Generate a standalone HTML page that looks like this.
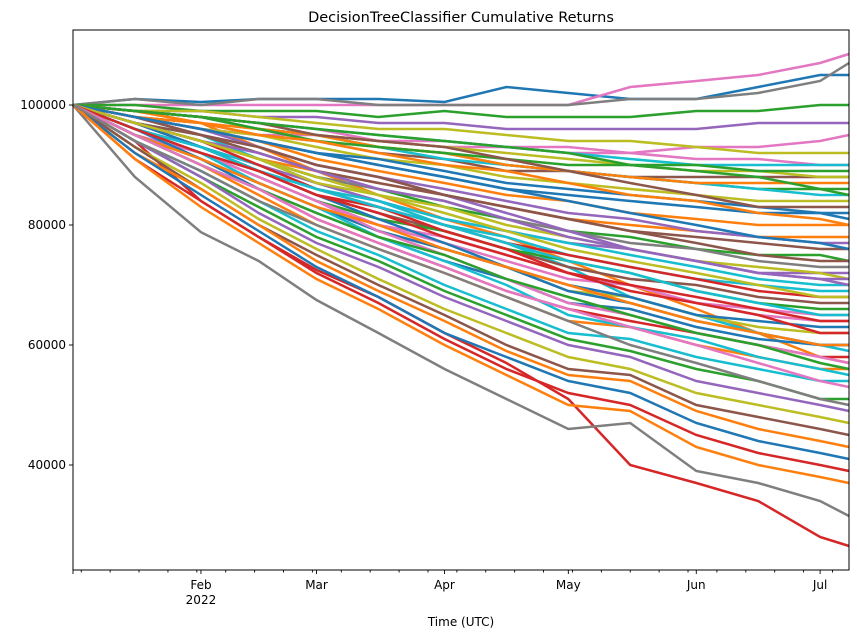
<!DOCTYPE html>
<html><head><meta charset="utf-8">
<style>
body{margin:0;background:#fff;font-family:"Liberation Sans","DejaVu Sans",sans-serif;}
svg text{font-family:"DejaVu Sans","Liberation Sans",sans-serif;}
</style></head>
<body>
<svg id="chart" width="857" height="638" viewBox="0 0 857 638" xmlns="http://www.w3.org/2000/svg">
<rect width="857" height="638" fill="#fff"/>
<text x="461" y="22" text-anchor="middle" font-size="14.5" fill="#000">DecisionTreeClassifier Cumulative Returns</text>
<g id="lines"></g>
<g id="axes"></g>
<text x="461" y="626" text-anchor="middle" font-size="12" fill="#000">Time (UTC)</text>
</svg>
<script>
const dates = [0, 15, 31, 45, 59, 74, 90, 105, 120, 135, 151, 166, 181, 188];
const yTicks = [40000, 60000, 80000, 100000];
const xTickLabels = ["Feb", "Mar", "Apr", "May", "Jun", "Jul"];
const xTickDays = [31, 59, 90, 120, 151, 181];
const colors = ["#1f77b4","#ff7f0e","#2ca02c","#d62728","#9467bd","#8c564b","#e377c2","#7f7f7f","#bcbd22","#17becf"];
const series = [
[100,101,100.5,101,101,101,100.5,103,102,101,101,103,105,105],
[100,100,100,100,100,100,100,100,100,103,104,105,107,108.5],
[100,101,100,101,101,100,100,100,100,101,101,102,104,107],
[100,94,84,78,72.5,68,62,57,51,40,37,34,28,26.5],
[100,100,99,99,99,98,99,98,98,98,99,99,100,100],
[100,99,97,93,89,85,81,78,74,70,66,62,58,57],
[100,99,99,98,98,97,97,96,96,96,96,97,97,97],
[100,88,78.8,74,67.5,62,56,51,46,47,39,37,34,31.5],
[100,98,96,95,95,94,94,93,93,92,93,93,94,95],
[100,97,95,91,87,84,80,77,73,68,65,62,60,59],
[100,98,97,95,94,92,91,89,89,88,88,88,88,88],
[100,98,96,95,93,91,90,88,87,86,85,84,84,84],
[100,98,96,94,92,90,88,86,85,84,83,82,82,81],
[100,97,94,91,89,87,85,83,81,80,79,78,78,78],
[100,97,94,91,88,86,83,81,79,78,76,75,75,74],
[100,96,93,90,87,84,81,79,77,76,74,72,72,72],
[100,96,93,89,86,83,80,78,75,73,71,70,69,69],
[100,96,92,89,85,82,79,76,73,71,70,68,67,67],
[100,95,92,88,84,80,77,74,71,70,67,65,64,64],
[100,95,91,87,83,79,76,73,69,68,65,63,62,62],
[100,95,91,86,82,78,74,71,67,66,63,61,60,60],
[100,95,90,86,81,77,73,69,66,64,62,60,58,58],
[100,95,90,85,80,76,72,68,64,63,60,58,56,56],
[100,94,89,84,79,75,70,66,62,61,58,56,54,54],
[100,94,88,83,78,74,69,65,61,59,56,54,51,51],
[100,94,88,82,77,73,68,64,60,58,54,52,50,49],
[100,93,87,81,76,71,66,62,58,56,52,50,48,47],
[100,93,86,80,75,70,65,60,56,55,50,48,46,45],
[100,92,86,80,74,69,64,59,55,54,49,46,44,43],
[100,92,85,79,73,68,62,58,54,52,47,44,42,41],
[100,91,84,78,72,67,61,56,52,50,45,42,40,39],
[100,91,83,77,71,66,60,55,50,49,43,40,38,37],
[100,99,98,97,96,94,93,93,92,92,91,91,90,90],
[100,99,98,96,95,94,93,92,91,90,89,89,88,88],
[100,99,98,96,95,93,92,90,89,88,87,86,86,86],
[100,99,98,96,95,93,91,90,89,88,87,86,85,85],
[100,98,96,94,92,91,89,87,86,85,84,83,82,82],
[100,98,96,94,91,89,87,85,84,82,81,80,80,80],
[100,98,95,93,90,88,86,84,82,81,79,78,77,77],
[100,98,95,92,89,87,85,83,81,79,78,77,76,76],
[100,97,94,91,88,86,84,81,79,77,76,74,73,73],
[100,97,94,91,87,85,83,80,78,76,74,73,72,71],
[100,97,93,90,86,84,81,79,77,75,73,71,70,70],
[100,97,93,89,85,83,80,77,75,73,71,69,68,68],
[100,96,92,88,84,81,79,76,74,72,69,67,66,66],
[100,96,92,88,84,80,78,75,72,70,67,66,65,65],
[100,96,91,87,83,79,76,73,70,68,65,64,63,63],
[100,99,99,98,97,96,96,95,94,94,93,92,92,92],
[100,99,98,97,96,95,94,93,92,91,90,90,90,90],
[100,99,97,96,95,93,92,90,89,88,87,87,87,87],
[100,99,98,96,94,93,92,91,90,90,90,89,89,89],
[100,99,98,97,95,94,93,91,89,87,85,83,83,83],
[100,98,96,93,90,88,85,82,79,76,74,72,71,71],
[100,97,94,90,86,83,79,76,72,70,68,66,64,64],
[100,97,93,89,85,81,77,73,69,67,64,62,60,60],
[100,96,92,88,84,79,75,71,67,65,62,60,58,57],
[100,96,92,87,83,78,74,70,65,63,61,58,56,55],
[100,99,98,97,96,95,94,93,92,90,89,88,86,85],
[100,98,97,95,94,92,90,89,87,85,84,82,81,80],
[100,98,96,94,92,90,88,86,84,82,80,78,77,76],
[100,97,95,93,90,88,85,83,81,79,77,75,74,74],
[100,97,94,92,89,86,84,81,78,76,74,72,71,70],
[100,97,94,91,88,85,82,79,76,74,72,70,68,68],
[100,96,93,89,86,83,80,77,74,72,69,67,65,65],
[100,96,92,89,85,82,78,75,72,69,67,65,62,62],
[100,95,91,87,83,80,76,73,70,67,64,62,60,60],
[100,95,90,86,82,78,75,71,68,65,62,60,57,56],
[100,95,90,86,81,77,73,69,66,63,60,57,54,53],
[100,94,89,84,80,76,72,68,64,60,57,54,51,50]
];
const seriesColor = [0,6,7,3,2,1,4,7,6,9,5,8,0,1,2,4,9,5,6,8,0,3,1,9,2,4,8,5,1,0,3,1,6,8,2,9,0,1,4,5,7,8,9,3,2,6,0,8,9,1,2,5,4,3,0,6,9,2,1,0,5,4,8,9,3,1,2,6,7];
const X0=73, X1=849, Y0=30, Y1=570;
const DMAX=188, VMIN=22500, VMAX=112500;
const xs = d => X0 + (d/DMAX)*(X1-X0);
const ys = v => Y1 - (v-VMIN)/(VMAX-VMIN)*(Y1-Y0);
const NS="http://www.w3.org/2000/svg";
const lg=document.getElementById('lines');
series.forEach((s,i)=>{
  const p=document.createElementNS(NS,'polyline');
  p.setAttribute('points', s.map((v,j)=>xs(dates[j]).toFixed(1)+','+ys(v*1000).toFixed(1)).join(' '));
  p.setAttribute('fill','none');
  p.setAttribute('stroke',colors[seriesColor[i]]);
  p.setAttribute('stroke-width','2.5');
  
  
  lg.appendChild(p);
});
const ax=document.getElementById('axes');
const fr=document.createElementNS(NS,'rect');
fr.setAttribute('x',X0);fr.setAttribute('y',Y0);fr.setAttribute('width',X1-X0);fr.setAttribute('height',Y1-Y0);
fr.setAttribute('fill','none');fr.setAttribute('stroke','#000');fr.setAttribute('stroke-width','1');


ax.appendChild(fr);
function line(x1,y1,x2,y2){
  const l=document.createElementNS(NS,'line');
  l.setAttribute('x1',x1);l.setAttribute('y1',y1);l.setAttribute('x2',x2);l.setAttribute('y2',y2);
  l.setAttribute('stroke','#000');l.setAttribute('stroke-width','0.9');
  
  
  ax.appendChild(l);
}
function text(x,y,t,anchor,name){
  const e=document.createElementNS(NS,'text');
  e.setAttribute('x',x);e.setAttribute('y',y);e.setAttribute('text-anchor',anchor);e.setAttribute('font-size','12');
  e.textContent=t;
  
  
  ax.appendChild(e);
}
yTicks.forEach(v=>{const y=ys(v);line(X0-4,y,X0,y);text(X0-7,y+4,String(v),'end','y-tick-label');});
for(let d=2; d<=DMAX; d+=7){ if(!xTickDays.includes(d)) line(xs(d),Y1,xs(d),Y1+2.5); }
line(X0,Y1,X0,Y1+4);
xTickDays.forEach((d,i)=>{const x=xs(d);line(x,Y1,x,Y1+4);text(x,Y1+19,xTickLabels[i],'middle','x-tick-label');});
text(xs(31),Y1+34,'2022','middle','x-year-label');
</script>
</body></html>
